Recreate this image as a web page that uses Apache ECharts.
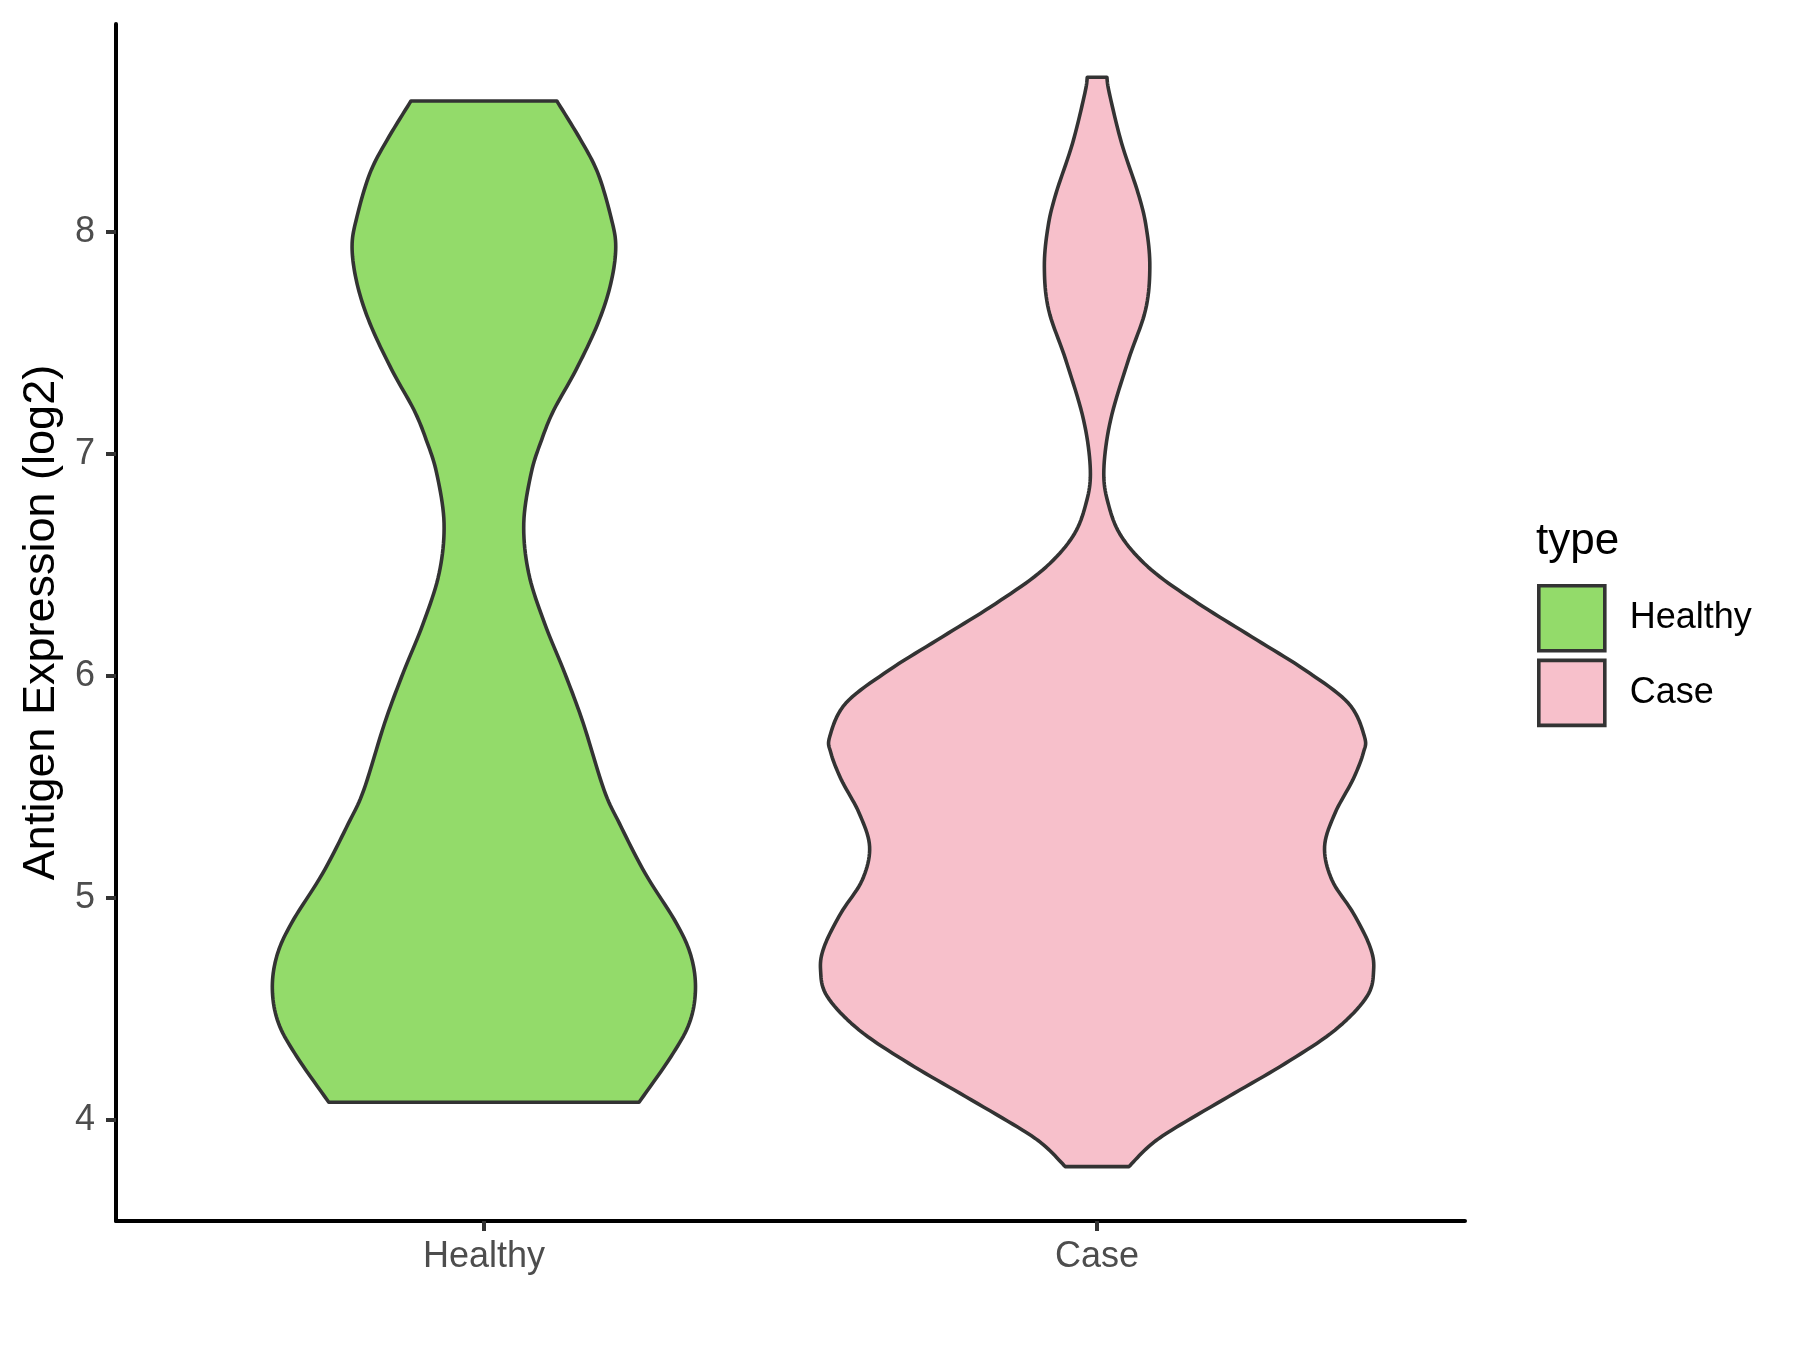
<!DOCTYPE html>
<html>
<head>
<meta charset="utf-8">
<script src="https://cdn.jsdelivr.net/npm/echarts@6/dist/echarts.min.js"></script>
<style>
  html, body { margin: 0; padding: 0; background: #ffffff; }
  #chart { width: 1800px; height: 1350px; }
</style>
</head>
<body>
<div id="chart"></div>
<script>
// ---- Data ----
const categories = ['Healthy', 'Case'];
const categoryPositions = [1, 2];
const yTicks = [4, 5, 6, 7, 8];

// Healthy violin profile: y value and half-width (x-axis units)
const healthyY = [8.590, 8.414, 8.264, 8.069, 7.934, 7.769, 7.589, 7.378, 7.198, 7.063, 6.913, 6.688, 6.463, 6.237, 6.012, 5.787, 5.486, 5.336, 5.111, 4.886, 4.736, 4.586, 4.436, 4.285, 4.080];
const healthyHalfWidth = [0.119, 0.158, 0.186, 0.207, 0.215, 0.207, 0.186, 0.150, 0.114, 0.094, 0.077, 0.065, 0.073, 0.099, 0.132, 0.162, 0.196, 0.221, 0.263, 0.314, 0.338, 0.345, 0.335, 0.305, 0.253];

// Case violin profile
const caseY = [8.697, 8.625, 8.400, 8.174, 8.024, 7.844, 7.649, 7.423, 7.153, 6.928, 6.778, 6.627, 6.477, 6.327, 6.177, 6.027, 5.877, 5.727, 5.652, 5.532, 5.382, 5.231, 5.081, 4.931, 4.781, 4.676, 4.556, 4.405, 4.255, 4.105, 3.955, 3.880, 3.790];
const caseHalfWidth = [0.016, 0.020, 0.040, 0.067, 0.080, 0.086, 0.079, 0.051, 0.022, 0.011, 0.018, 0.040, 0.089, 0.165, 0.252, 0.339, 0.410, 0.436, 0.434, 0.417, 0.388, 0.371, 0.383, 0.418, 0.445, 0.451, 0.440, 0.388, 0.307, 0.214, 0.122, 0.084, 0.052];

const colors = ['#93DB6A', '#F7C0CB'];
const profiles = [
  { y: healthyY, w: healthyHalfWidth },
  { y: caseY, w: caseHalfWidth }
];

const FONT = '"Liberation Sans", Arial, Helvetica, sans-serif';

// Catmull-Rom smoothing of a pixel polyline (rendering only)
function smoothLine(pts, steps) {
  const out = [];
  const n = pts.length;
  for (let i = 0; i < n - 1; i++) {
    const p0 = pts[Math.max(i - 1, 0)];
    const p1 = pts[i];
    const p2 = pts[i + 1];
    const p3 = pts[Math.min(i + 2, n - 1)];
    for (let s = 0; s < steps; s++) {
      const t = s / steps, t2 = t * t, t3 = t2 * t;
      const x = 0.5 * ((2 * p1[0]) + (-p0[0] + p2[0]) * t + (2 * p0[0] - 5 * p1[0] + 4 * p2[0] - p3[0]) * t2 + (-p0[0] + 3 * p1[0] - 3 * p2[0] + p3[0]) * t3);
      const y = 0.5 * ((2 * p1[1]) + (-p0[1] + p2[1]) * t + (2 * p0[1] - 5 * p1[1] + 4 * p2[1] - p3[1]) * t2 + (-p0[1] + 3 * p1[1] - 3 * p2[1] + p3[1]) * t3);
      out.push([x, y]);
    }
  }
  out.push(pts[n - 1]);
  return out;
}

function makeRenderItem(idx) {
  return function (params, api) {
    const pos = api.value(0);
    const prof = profiles[idx];
    const left = [], right = [];
    for (let i = 0; i < prof.y.length; i++) {
      left.push(api.coord([pos - prof.w[i], prof.y[i]]));
      right.push(api.coord([pos + prof.w[i], prof.y[i]]));
    }
    const l = smoothLine(left, 10);
    const r = smoothLine(right, 10).reverse();
    const points = l.concat(r);
    return {
      type: 'polygon',
      shape: { points: points },
      style: { fill: colors[idx], stroke: '#333333', lineWidth: 3.6, lineJoin: 'round' }
    };
  };
}

const chart = echarts.init(document.getElementById('chart'), null, { renderer: 'canvas' });

const option = {
  animation: false,
  backgroundColor: '#ffffff',
  grid: { left: 116, right: 335, top: 24, bottom: 129, containLabel: false },
  title: {
    text: 'type',
    left: 1536,
    top: 520,
    padding: 0,
    textStyle: { fontFamily: FONT, fontSize: 44, fontWeight: 'normal', color: '#000000' }
  },
  legend: {
    orient: 'vertical',
    left: 1537,
    top: 584,
    padding: 0,
    itemWidth: 66,
    itemHeight: 65,
    itemGap: 6,
    icon: 'rect',
    selectedMode: false,
    data: categories,
    itemStyle: { borderColor: '#333333', borderWidth: 3.6 },
    textStyle: { fontFamily: FONT, fontSize: 36, color: '#000000', padding: [0, 0, 0, 20] }
  },
  xAxis: {
    type: 'value',
    min: 0.4,
    max: 2.6,
    splitLine: { show: false },
    axisLine: { show: true, lineStyle: { color: '#000000', width: 4 } },
    axisTick: { show: true, length: 10, customValues: categoryPositions, lineStyle: { color: '#333333', width: 4 } },
    axisLabel: {
      customValues: categoryPositions,
      formatter: function (v) { return categories[Math.round(v) - 1]; },
      margin: 18,
      fontFamily: FONT,
      fontSize: 36,
      color: '#4D4D4D'
    }
  },
  yAxis: {
    type: 'value',
    min: 3.545,
    max: 8.937,
    name: 'Antigen Expression (log2)',
    nameLocation: 'middle',
    nameGap: 50,
    nameTextStyle: { fontFamily: FONT, fontSize: 45, color: '#000000' },
    splitLine: { show: false },
    axisLine: { show: true, lineStyle: { color: '#000000', width: 4 } },
    axisTick: { show: true, length: 10, customValues: yTicks, lineStyle: { color: '#333333', width: 4 } },
    axisLabel: {
      customValues: yTicks,
      margin: 21,
      fontFamily: FONT,
      fontSize: 36,
      color: '#4D4D4D'
    }
  },
  series: [
    {
      name: categories[0],
      type: 'custom',
      renderItem: makeRenderItem(0),
      itemStyle: { color: colors[0], borderColor: '#333333', borderWidth: 3.6 },
      encode: { x: 0, y: 1 },
      data: [[categoryPositions[0], 6]]
    },
    {
      name: categories[1],
      type: 'custom',
      renderItem: makeRenderItem(1),
      itemStyle: { color: colors[1], borderColor: '#333333', borderWidth: 3.6 },
      encode: { x: 0, y: 1 },
      data: [[categoryPositions[1], 6]]
    }
  ]
};

chart.setOption(option);
</script>
</body>
</html>
